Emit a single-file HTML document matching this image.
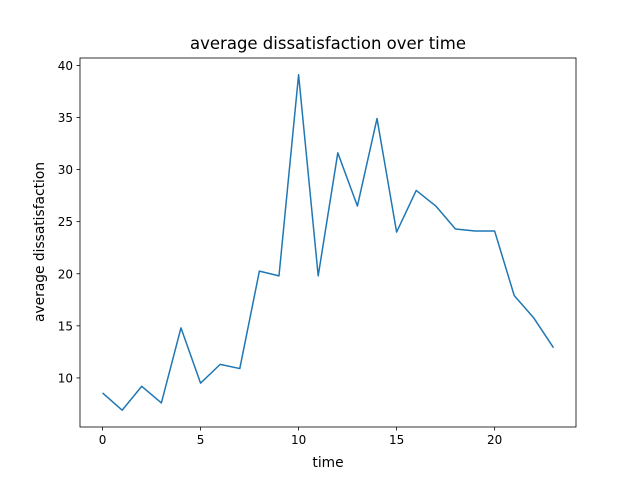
<!DOCTYPE html>
<html><head><meta charset="utf-8"><style>
body{margin:0;background:#fff;}
svg{display:block;font-family:"DejaVu Sans","Liberation Sans",sans-serif;}
</style></head><body>
<svg id="chart" width="640" height="480">
<rect width="640" height="480" fill="#fff"/>
<text x="328" y="49" font-size="16.5" text-anchor="middle">average dissatisfaction over time</text>
<text x="328" y="467" font-size="13.8" text-anchor="middle">time</text>
<text transform="translate(44,242) rotate(-90)" font-size="13.8" text-anchor="middle">average dissatisfaction</text>
<g id="ticks"></g>
<polyline id="line" fill="none" stroke="#1f77b4" stroke-width="1.5" stroke-linejoin="round"/>
<rect x="80" y="58" width="496" height="369" fill="none" stroke="#000" stroke-width="0.8"/>
</svg>
<script>
const times=[0,1,2,3,4,5,6,7,8,9,10,11,12,13,14,15,16,17,18,19,20,21,22,23];
const values=[8.56,6.9,9.2,7.6,14.8,9.5,11.3,10.9,20.25,19.8,39.1,19.8,31.6,26.5,34.9,24.0,28.0,26.5,24.3,24.1,24.1,17.9,15.75,12.9];
const xTicks=[0,5,10,15,20];
const yTicks=[10,15,20,25,30,35,40];
const L=80,R=576,T=58,B=427;
const xmin=Math.min(...times),xmax=Math.max(...times),xm=(xmax-xmin)*0.05;
const ymin=Math.min(...values),ymax=Math.max(...values),ym=(ymax-ymin)*0.05;
const x=v=>L+(v-(xmin-xm))/((xmax+xm)-(xmin-xm))*(R-L);
const y=v=>B-(v-(ymin-ym))/((ymax+ym)-(ymin-ym))*(B-T);
const NS="http://www.w3.org/2000/svg";
const g=document.getElementById('ticks');
function mk(tag,a){const e=document.createElementNS(NS,tag);for(const k in a)e.setAttribute(k,a[k]);return e;}
xTicks.forEach(t=>{
  const l=mk('line',{x1:x(t),x2:x(t),y1:B,y2:B+3.5,stroke:'#000','stroke-width':0.8});
  
  
  g.appendChild(l);
  const tx=mk('text',{x:x(t),y:B+17,'font-size':12,'text-anchor':'middle'});
  
  
  tx.textContent=t;g.appendChild(tx);
});
yTicks.forEach(t=>{
  const l=mk('line',{x1:L-3.5,x2:L,y1:y(t),y2:y(t),stroke:'#000','stroke-width':0.8});
  
  
  g.appendChild(l);
  const tx=mk('text',{x:L-7,y:y(t)+4.5,'font-size':12,'text-anchor':'end'});
  
  
  tx.textContent=t;g.appendChild(tx);
});
document.getElementById('line').setAttribute('points',times.map((t,i)=>x(t)+','+y(values[i])).join(' '));
</script>
</body></html>
